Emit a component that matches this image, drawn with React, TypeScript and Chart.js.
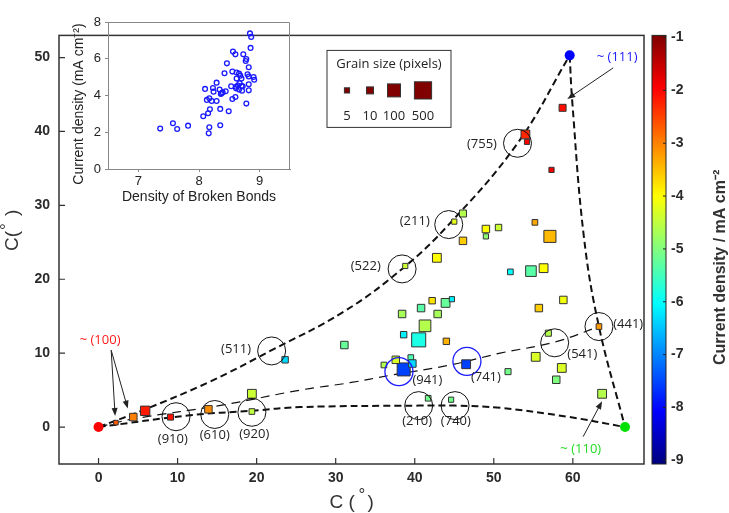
import React, { useEffect, useRef } from "react";
import { Chart, registerables } from "chart.js";

Chart.register(...registerables);
Chart.defaults.font.family = "'Liberation Sans', Arial, sans-serif";

// ---------- main axis ticks ----------
const xTickValues = [0, 10, 20, 30, 40, 50, 60];
const yTickValues = [0, 10, 20, 30, 40, 50];
const cbTickValues = [-1, -2, -3, -4, -5, -6, -7, -8, -9];

// ---------- grains (orientation x, orientation y, current density, grain size) ----------
const grainX = [58.7, 54.0, 54.2, 57.3, 46.1, 45.0, 46.1, 49.0, 49.0, 50.6, 55.2, 57.1, 38.8, 42.8, 52.1, 54.7, 56.3, 58.8, 55.7, 42.2, 43.9, 44.7, 40.8, 38.4, 42.9, 41.3, 38.6, 40.5, 44.0, 56.9, 63.3, 31.1, 23.6, 38.6, 37.6, 36.1, 39.5, 39.7, 46.5, 51.8, 55.3, 58.6, 57.9, 63.7, 41.7, 44.6, 5.9, 4.4, 2.2, 9.1, 13.9, 19.4, 19.4];
const grainY = [43.2, 39.6, 38.6, 34.8, 28.9, 27.8, 25.2, 26.8, 25.8, 27.0, 27.7, 25.8, 21.8, 22.9, 21.0, 21.1, 21.5, 17.2, 16.1, 17.1, 16.8, 17.3, 16.1, 15.3, 15.3, 13.7, 12.5, 11.8, 11.6, 12.7, 13.6, 11.1, 9.1, 7.8, 9.1, 8.4, 9.4, 8.6, 8.5, 7.5, 9.5, 8.0, 6.4, 4.5, 3.9, 3.7, 2.2, 1.35, 0.6, 1.35, 2.4, 4.5, 2.1];
const grainCurrent = [-2.1, -2.3, -2.0, -1.9, -4.6, -4.2, -3.6, -4.0, -4.9, -4.4, -3.3, -3.45, -4.4, -4.0, -6.0, -5.3, -4.0, -4.1, -3.6, -3.8, -5.2, -6.1, -5.3, -4.7, -4.7, -4.6, -6.1, -5.8, -3.4, -4.6, -3.2, -5.2, -6.3, -7.5, -4.3, -4.6, -5.4, -6.3, -7.5, -5.1, -4.3, -4.3, -5.0, -4.6, -5.1, -5.1, -2.2, -3.0, -2.7, -2.1, -3.1, -4.4, -4.5];
const grainSize = [10, 20, 5, 5, 10, 5, 12, 12, 5, 8, 6, 70, 5, 20, 6, 40, 20, 12, 12, 8, 20, 5, 12, 12, 12, 60, 8, 150, 8, 7, 6, 12, 8, 100, 12, 6, 6, 12, 20, 7, 20, 20, 12, 20, 6, 5, 25, 12, 4, 7, 12, 20, 6];

// ---------- grain size legend ----------
const legendSizes = [5, 10, 100, 500];
const legendTitle = "Grain size (pixels)";

// ---------- boundary curves of the stereographic triangle ----------
const upperCurveX = [0, 5.9, 14.0, 21.9, 31.0, 38.4, 44.3, 53.0, 59.6];
const upperCurveY = [0, 2.4, 6.1, 10.4, 15.6, 21.4, 27.4, 38.4, 50.3];
const rightCurveX = [59.6, 59.9, 61.4, 63.3, 66.6];
const rightCurveY = [50.3, 44.4, 25.7, 13.6, 0];
const bottomCurveX = [0, 11.6, 19.4, 25.5, 40.5, 45.1, 50.8, 59.3, 66.6];
const bottomCurveY = [0, 1.6, 2.2, 2.7, 2.9, 2.9, 2.6, 1.4, 0];
const middleCurveX = [0, 4.4, 15.8, 25.5, 31.8, 36.9, 44.5, 50.8, 57.7, 63.3];
const middleCurveY = [0, 1.1, 3.0, 5.0, 6.0, 7.0, 8.4, 10.0, 11.5, 13.6];

// ---------- poles ----------
const poleX = [0, 59.6, 66.6];
const poleY = [0, 50.3, 0];
const poleLabel = ["~ (100)", "~ (111)", "~ (110)"];
const poleLabelX = [0.2, 65.6, 61.0];
const poleLabelY = [11.7, 50.1, -3.0];
const poleColor = ["#ff0000", "#0000ff", "#00e000"];
const poleTextColor = ["#ff1a1a", "#1a1aff", "#22dd22"];

// ---------- arrows (from x,y to x,y) ----------
const arrowX1 = [1.6, 1.6, 65.1, 61.3];
const arrowY1 = [10.4, 10.4, 48.6, -1.3];
const arrowX2 = [2.1, 3.7, 59.3, 63.7];
const arrowY2 = [1.5, 2.5, 44.4, 3.5];

// ---------- plane circles ----------
const circleX = [53.0, 44.3, 38.4, 21.9, 57.7, 63.3, 40.5, 45.1, 9.8, 14.7, 19.4];
const circleY = [38.4, 27.4, 21.4, 10.3, 11.4, 13.6, 2.9, 2.9, 1.4, 1.7, 2.0];
const blueCircleX = [38.0, 46.6];
const blueCircleY = [7.5, 8.9];
const planeLabel = ["(755)", "(211)", "(522)", "(511)", "(941)", "(741)", "(541)", "(441)", "(210)", "(740)", "(910)", "(610)", "(920)"];
const planeLabelX = [48.5, 40.0, 33.8, 17.4, 41.6, 49.0, 61.2, 67.0, 40.3, 45.2, 9.4, 14.7, 19.7];
const planeLabelY = [38.3, 27.9, 21.8, 10.5, 6.3, 6.7, 9.9, 13.9, 0.8, 0.8, -1.7, -1.1, -1.0];

// ---------- inset: current density vs density of broken bonds ----------
const insetXTicks = [7, 8, 9];
const insetYTicks = [0, 2, 4, 6, 8];
const insetBonds = [7.36, 7.57, 7.64, 7.82, 8.07, 8.10, 8.13, 8.15, 8.16, 8.17, 8.17, 8.18, 8.21, 8.23, 8.24, 8.29, 8.29, 8.34, 8.35, 8.35, 8.36, 8.37, 8.39, 8.42, 8.44, 8.46, 8.49, 8.53, 8.55, 8.55, 8.56, 8.60, 8.60, 8.61, 8.61, 8.62, 8.62, 8.64, 8.66, 8.66, 8.67, 8.68, 8.70, 8.70, 8.71, 8.72, 8.73, 8.77, 8.78, 8.78, 8.80, 8.82, 8.82, 8.82, 8.82, 8.84, 8.86, 8.85, 8.90, 8.91];
const insetCurrent = [2.20, 2.49, 2.18, 2.36, 2.87, 4.36, 3.76, 3.03, 1.94, 2.27, 3.85, 3.25, 3.70, 4.41, 4.21, 4.70, 3.70, 4.32, 3.27, 2.38, 4.08, 4.12, 4.17, 5.21, 4.23, 5.75, 3.14, 4.50, 3.81, 5.30, 6.39, 3.92, 6.24, 4.48, 4.39, 5.25, 4.92, 4.54, 4.32, 5.19, 4.66, 5.08, 4.92, 4.52, 4.26, 4.50, 6.24, 5.88, 5.99, 3.56, 5.15, 4.61, 4.28, 5.54, 5.03, 7.38, 7.19, 6.59, 5.01, 4.86];

const CB_MIN = Math.min(...cbTickValues);
const CB_MAX = Math.max(...cbTickValues);

function jet(v: number): string {
  const t = Math.min(1, Math.max(0, (v - CB_MIN) / (CB_MAX - CB_MIN)));
  const c = (u: number) => Math.round(255 * Math.min(1, Math.max(0, u)));
  return `rgb(${c(1.5 - Math.abs(4 * t - 3))},${c(1.5 - Math.abs(4 * t - 2))},${c(1.5 - Math.abs(4 * t - 1))})`;
}
const sideFor = (g: number) => 1 + 6 * Math.log10(g);

const curve = (xs: number[], ys: number[], dash: number[], w: number) => ({
  data: xs.map((x, i) => ({ x, y: ys[i] })),
  showLine: true,
  pointRadius: 0,
  borderColor: "#111",
  borderWidth: w,
  borderDash: dash,
  tension: 0.4,
  fill: false,
  order: 5,
});

function arrow(ctx: CanvasRenderingContext2D, x1: number, y1: number, x2: number, y2: number) {
  const ang = Math.atan2(y2 - y1, x2 - x1);
  const L = 8, W = 3;
  ctx.beginPath();
  ctx.moveTo(x1, y1);
  ctx.lineTo(x2 - L * 0.8 * Math.cos(ang), y2 - L * 0.8 * Math.sin(ang));
  ctx.stroke();
  ctx.beginPath();
  ctx.moveTo(x2, y2);
  ctx.lineTo(x2 - L * Math.cos(ang) + W * Math.sin(ang), y2 - L * Math.sin(ang) - W * Math.cos(ang));
  ctx.lineTo(x2 - L * Math.cos(ang) - W * Math.sin(ang), y2 - L * Math.sin(ang) + W * Math.cos(ang));
  ctx.closePath();
  ctx.fill();
}

const mainDecor = {
  id: "mainDecor",
  afterDatasetsDraw(chart: any) {
    const { ctx, chartArea: a, scales } = chart;
    const xs = scales.x, ys = scales.y, cb = scales.cb;
    const px = (v: number) => xs.getPixelForValue(v);
    const py = (v: number) => ys.getPixelForValue(v);
    ctx.save();

    // plane labels
    ctx.fillStyle = "#222";
    ctx.font = "13px 'Open Sans', 'Noto Sans', sans-serif";
    ctx.textAlign = "center";
    ctx.textBaseline = "middle";
    planeLabel.forEach((t, i) => ctx.fillText(t, px(planeLabelX[i]), py(planeLabelY[i])));

    // pole labels
    poleLabel.forEach((t, i) => {
      ctx.fillStyle = poleTextColor[i];
      ctx.fillText(t, px(poleLabelX[i]), py(poleLabelY[i]));
    });

    // arrows
    ctx.strokeStyle = "#222";
    ctx.fillStyle = "#222";
    ctx.lineWidth = 1;
    arrowX1.forEach((_, i) => arrow(ctx, px(arrowX1[i]), py(arrowY1[i]), px(arrowX2[i]), py(arrowY2[i])));

    // frame
    ctx.strokeStyle = "#333";
    ctx.lineWidth = 1.5;
    ctx.strokeRect(a.left, a.top, a.right - a.left, a.bottom - a.top);
    ctx.lineWidth = 1.2;
    ctx.beginPath();
    xTickValues.forEach((v) => { ctx.moveTo(px(v), a.bottom); ctx.lineTo(px(v), a.bottom - 6); });
    yTickValues.forEach((v) => { ctx.moveTo(a.left, py(v)); ctx.lineTo(a.left + 6, py(v)); });
    ctx.stroke();

    // axis titles
    ctx.fillStyle = "#333";
    ctx.textAlign = "left";
    ctx.textBaseline = "alphabetic";
    const cx = (a.left + a.right) / 2;
    ctx.font = "19px 'Liberation Sans', Arial, sans-serif";
    ctx.fillText("C (", cx - 22, 508);
    ctx.fillText(")", cx + 16, 508);
    ctx.font = "17px 'Liberation Sans', Arial, sans-serif";
    ctx.fillText("°", cx + 7, 500);
    ctx.save();
    ctx.translate(13, 229);
    ctx.rotate(-Math.PI / 2);
    ctx.font = "19px 'Liberation Sans', Arial, sans-serif";
    ctx.fillText("C(", -22, 5);
    ctx.fillText(")", 13, 5);
    ctx.font = "17px 'Liberation Sans', Arial, sans-serif";
    ctx.fillText("°", -1, -1);
    ctx.restore();

    // colour bar
    const bl = a.right + 8, br = a.right + 22;
    const g = ctx.createLinearGradient(0, a.top, 0, a.bottom);
    for (let k = 0; k <= 64; k++) g.addColorStop(k / 64, jet(CB_MAX - (CB_MAX - CB_MIN) * k / 64));
    ctx.fillStyle = g;
    ctx.fillRect(bl, a.top, br - bl, a.bottom - a.top);
    ctx.strokeStyle = "#222";
    ctx.lineWidth = 1;
    ctx.strokeRect(bl, a.top, br - bl, a.bottom - a.top);
    ctx.beginPath();
    cbTickValues.forEach((v) => {
      const p = cb.getPixelForValue(v);
      ctx.moveTo(br - 3, p); ctx.lineTo(br, p);
    });
    ctx.stroke();
    ctx.save();
    ctx.translate(725, 365);
    ctx.rotate(-Math.PI / 2);
    ctx.fillStyle = "#333";
    ctx.font = "bold 16px 'Liberation Sans', Arial, sans-serif";
    ctx.textAlign = "left";
    ctx.fillText("Current density / mA cm⁻²", 0, 0);
    ctx.restore();

    // grain size legend
    const lx = a.left + 268, ly = a.top + 15, lw = 124, lh = 77;
    ctx.fillStyle = "#fff";
    ctx.fillRect(lx, ly, lw, lh);
    ctx.strokeStyle = "#333";
    ctx.strokeRect(lx, ly, lw, lh);
    ctx.fillStyle = "#222";
    ctx.font = "13px 'Open Sans', 'Noto Sans', sans-serif";
    ctx.textAlign = "center";
    ctx.textBaseline = "middle";
    ctx.fillText(legendTitle, lx + lw / 2, ly + 14);
    const lxs = [20, 43, 67, 96];
    legendSizes.forEach((s, i) => {
      const side = sideFor(s);
      const cxx = lx + lxs[i];
      ctx.fillStyle = jet(CB_MAX);
      ctx.fillRect(cxx - side / 2, ly + 40 - side / 2, side, side);
      ctx.strokeStyle = "#333";
      ctx.strokeRect(cxx - side / 2, ly + 40 - side / 2, side, side);
      ctx.fillStyle = "#222";
      ctx.fillText(String(s), cxx, ly + 66);
    });
    ctx.restore();
  },
};

const insetDecor = {
  id: "insetDecor",
  afterDraw(chart: any) {
    const { ctx, chartArea: a } = chart;
    ctx.save();
    ctx.strokeStyle = "#888";
    ctx.lineWidth = 1;
    ctx.beginPath();
    ctx.moveTo(a.left, a.top + 0.5);
    ctx.lineTo(a.right - 0.5, a.top + 0.5);
    ctx.lineTo(a.right - 0.5, a.bottom);
    ctx.stroke();
    ctx.translate(19, 94);
    ctx.rotate(-Math.PI / 2);
    ctx.fillStyle = "#222";
    ctx.font = "14px 'Liberation Sans', Arial, sans-serif";
    ctx.textAlign = "center";
    ctx.textBaseline = "middle";
    ctx.fillText("Current density (mA cm⁻²)", 0, 0);
    ctx.restore();
  },
};

export default function App() {
  const mainRef = useRef<HTMLCanvasElement>(null);
  const insetRef = useRef<HTMLCanvasElement>(null);

  useEffect(() => {
    const tickFont = { size: 14, weight: "bold" as const };
    const main = new Chart(mainRef.current as HTMLCanvasElement, {
      type: "scatter",
      data: {
        datasets: [
          {
            data: poleX.map((x, i) => ({ x, y: poleY[i] })),
            pointStyle: "circle",
            pointRadius: 5,
            backgroundColor: poleColor,
            borderColor: poleColor,
            borderWidth: 0,
            order: 0,
          } as any,
          {
            data: circleX.map((x, i) => ({ x, y: circleY[i] })),
            pointStyle: "circle",
            pointRadius: 14,
            backgroundColor: "rgba(0,0,0,0)",
            borderColor: "#111",
            borderWidth: 1,
            order: 1,
          },
          {
            data: blueCircleX.map((x, i) => ({ x, y: blueCircleY[i] })),
            pointStyle: "circle",
            pointRadius: 14,
            backgroundColor: "rgba(0,0,0,0)",
            borderColor: "#1a1aff",
            borderWidth: 1.3,
            order: 1,
          },
          {
            data: grainX.map((x, i) => ({ x, y: grainY[i] })),
            pointStyle: "rect",
            pointRadius: grainSize.map((g) => sideFor(g) / Math.SQRT2),
            backgroundColor: grainCurrent.map(jet),
            borderColor: "#333",
            borderWidth: 1,
            order: 2,
          } as any,
          curve(upperCurveX, upperCurveY, [7, 4], 2),
          curve(rightCurveX, rightCurveY, [7, 4], 2),
          curve(bottomCurveX, bottomCurveY, [7, 4], 2),
          curve(middleCurveX, middleCurveY, [9, 6], 1.2),
        ],
      },
      options: {
        responsive: false,
        animation: false,
        devicePixelRatio: 1,
        layout: { padding: { top: 7, left: 0, right: 0, bottom: 0 } },
        plugins: { legend: { display: false }, tooltip: { enabled: false } },
        scales: {
          x: {
            type: "linear",
            position: "bottom",
            min: -5,
            max: 69,
            afterBuildTicks: (s: any) => { s.ticks = xTickValues.map((v) => ({ value: v })); },
            afterFit: (s: any) => { s.height = 49; },
            grid: { display: false, drawTicks: false },
            border: { display: false },
            ticks: { font: tickFont, color: "#2b2b2b", padding: 6 },
          },
          y: {
            type: "linear",
            position: "left",
            min: -5,
            max: 53,
            afterBuildTicks: (s: any) => { s.ticks = yTickValues.map((v) => ({ value: v })); },
            afterFit: (s: any) => { s.width = 59; },
            grid: { display: false, drawTicks: false },
            border: { display: false },
            ticks: { font: tickFont, color: "#2b2b2b", padding: 9 },
          },
          cb: {
            type: "linear",
            axis: "y",
            position: "right",
            min: -9.07,
            max: -0.96,
            afterBuildTicks: (s: any) => { s.ticks = cbTickValues.map((v) => ({ value: v })); },
            afterFit: (s: any) => { s.width = 85; },
            grid: { display: false, drawTicks: false },
            border: { display: false },
            ticks: { font: tickFont, color: "#2b2b2b", padding: 27 },
          },
        },
      } as any,
      plugins: [mainDecor],
    });

    const inset = new Chart(insetRef.current as HTMLCanvasElement, {
      type: "scatter",
      data: {
        datasets: [
          {
            data: insetBonds.map((x, i) => ({ x, y: insetCurrent[i] })),
            pointStyle: "circle",
            pointRadius: 2.4,
            backgroundColor: "rgba(255,255,255,0)",
            borderColor: "#1a1aff",
            borderWidth: 1.3,
          },
        ],
      },
      options: {
        responsive: false,
        animation: false,
        devicePixelRatio: 1,
        layout: { padding: { top: 12, right: 20, left: 0, bottom: 0 } },
        plugins: { legend: { display: false }, tooltip: { enabled: false } },
        scales: {
          x: {
            type: "linear",
            min: 6.5,
            max: 9.5,
            afterBuildTicks: (s: any) => { s.ticks = insetXTicks.map((v) => ({ value: v })); },
            afterFit: (s: any) => { s.height = 41; },
            grid: { display: true, drawOnChartArea: false, drawTicks: true, tickLength: 3, color: "#888" },
            border: { display: true, color: "#888" },
            ticks: { font: { size: 13 }, color: "#222", padding: 2 },
            title: { display: true, text: "Density of Broken Bonds", font: { size: 14 }, color: "#222", padding: { top: 0, bottom: 4 } },
          },
          y: {
            type: "linear",
            min: 0,
            max: 8,
            afterBuildTicks: (s: any) => { s.ticks = insetYTicks.map((v) => ({ value: v })); },
            afterFit: (s: any) => { s.width = 48; },
            grid: { display: true, drawOnChartArea: false, drawTicks: true, tickLength: 3, color: "#888" },
            border: { display: true, color: "#888" },
            ticks: { font: { size: 13 }, color: "#222", padding: 4 },
          },
        },
      } as any,
      plugins: [insetDecor],
    });

    return () => {
      main.destroy();
      inset.destroy();
    };
  }, []);

  return (
    <div style={{ position: "absolute", left: 0, top: 0, width: 729, height: 513, background: "#fff" }}>
      <canvas ref={mainRef} width={729} height={513} style={{ position: "absolute", left: 0, top: 0, width: 729, height: 513 }} />
      <canvas ref={insetRef} width={250} height={200} style={{ position: "absolute", left: 60, top: 10, width: 250, height: 200 }} />
    </div>
  );
}
